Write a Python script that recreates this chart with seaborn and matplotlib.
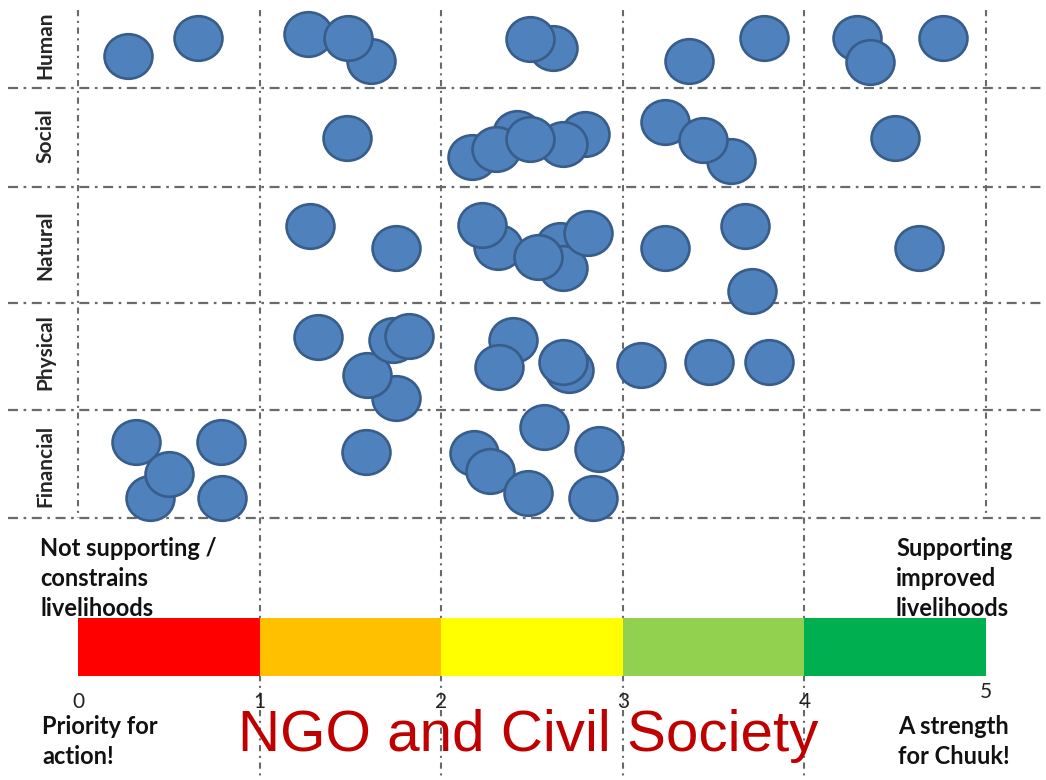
import matplotlib
matplotlib.use("Agg")
import matplotlib.pyplot as plt
import numpy as np
import pandas as pd
import seaborn as sns
from matplotlib.path import Path
from matplotlib.transforms import Affine2D

# rows of the livelihood assessment
rows = ["Human", "Social", "Natural", "Physical", "Financial"]
row_label_y = [45, 136, 245, 352, 466]
row_lines_y = [88, 187, 303, 410, 518]

# dot positions: score (0-5) and vertical position (px from top)
human_x = [1.613, 1.267, 1.487, 0.275, 0.661, 2.616, 2.489, 3.365, 3.778, 4.290, 4.361, 4.763]
human_y = [61, 34, 38, 56, 38, 48, 39, 61, 38, 38, 62, 38]
social_x = [1.481, 2.417, 2.170, 2.792, 2.671, 2.302, 2.489, 3.596, 3.232, 3.442, 4.499]
social_y = [138, 133, 157, 134, 144, 149, 139, 161, 122, 140, 138]
natural_x = [1.278, 1.751, 2.313, 2.225, 2.654, 2.671, 2.533, 2.809, 3.232, 3.673, 3.711, 4.631]
natural_y = [226, 248, 247, 225, 245, 268, 257, 233, 248, 226, 291, 248]
physical_x = [1.322, 1.751, 1.591, 1.735, 1.823, 2.395, 2.318, 2.704, 2.671, 3.100, 3.475, 3.805]
physical_y = [337, 398, 375, 340, 336, 340, 367, 370, 362, 365, 362, 362]
financial_x = [0.319, 0.787, 0.396, 0.501, 0.793, 1.586, 2.566, 2.181, 2.269, 2.478, 2.869, 2.836]
financial_y = [442, 442, 498, 474, 498, 452, 427, 453, 471, 493, 449, 498]

# colour scale
band_start = [0, 1, 2, 3, 4]
band_colors = ["#FF0000", "#FFC000", "#FFFF00", "#92D050", "#00B050"]
scale_ticks = [0, 1, 2, 3, 4, 5]

frames = []
for name, xs, ys in [("Human", human_x, human_y), ("Social", social_x, social_y),
                     ("Natural", natural_x, natural_y), ("Physical", physical_x, physical_y),
                     ("Financial", financial_x, financial_y)]:
    frames.append(pd.DataFrame({"score": xs, "pos": ys, "capital": name}))
df = pd.concat(frames, ignore_index=True)

sns.set_style("white")
bold_font = ["Lato", "DejaVu Sans"]

fig = plt.figure(figsize=(10.46, 7.8), dpi=100)
ax = fig.add_axes([0, 0, 1, 1])
px = 181.6
ax.set_xlim(-78 / px, (1046 - 78) / px)
ax.set_ylim(780, 0)
ax.axis("off")

# vertical grid lines
for s in scale_ticks:
    bottom = 518 if s in (0, 5) else 780
    ax.vlines(s, 10, bottom, colors="#6a6a6a", linestyles=[(0, (3, 2.2, 1, 2.2))],
              lw=1.5, zorder=1)
# horizontal grid lines
ax.hlines(row_lines_y, -70 / px, (1046 - 78) / px, colors="#6a6a6a",
          linestyles=[(0, (4.5, 2.5, 1.2, 2.5))], lw=1.6, zorder=1)

# ellipse marker
ell = Path.unit_circle().transformed(Affine2D().scale(1, 0.93))
sns.scatterplot(data=df, x="score", y="pos", marker=ell, s=1190, color="#4F81BD",
                edgecolor="#385D8A", linewidth=1.9, legend=False, ax=ax, zorder=3)

# colour bar
ax.bar(band_start, 58, bottom=618, width=1, align="edge", color=band_colors,
       edgecolor="none", zorder=2)

for s in scale_ticks:
    ax.text(s, 692 if s == 5 else 702, str(s), ha="center", va="center",
            fontsize=15, family=bold_font, color="#222222")

for name, yc in zip(rows, row_label_y):
    ax.text(-33 / px, yc, name, rotation=90, ha="center", va="center",
            fontsize=15, fontweight="bold", family=bold_font)

side_kw = dict(ha="left", va="top", fontsize=17, fontweight="bold", family=bold_font,
               linespacing=1.38, color="#111111")
ax.text(-38 / px, 537, "Not supporting /\nconstrains\nlivelihoods", **side_kw)
ax.text((896 - 78) / px, 537, "Supporting\nimproved\nlivelihoods", **side_kw)
ax.text(-36 / px, 715, "Priority for\naction!", **side_kw)
ax.text((898 - 78) / px, 715, "A strength\nfor Chuuk!", **side_kw)

ax.text((528 - 78) / px, 736, "NGO and Civil Society", ha="center", va="center",
        fontsize=42, color="#C00000", family=["Liberation Sans", "DejaVu Sans"], zorder=4)

fig.savefig("out.png", dpi=100)
